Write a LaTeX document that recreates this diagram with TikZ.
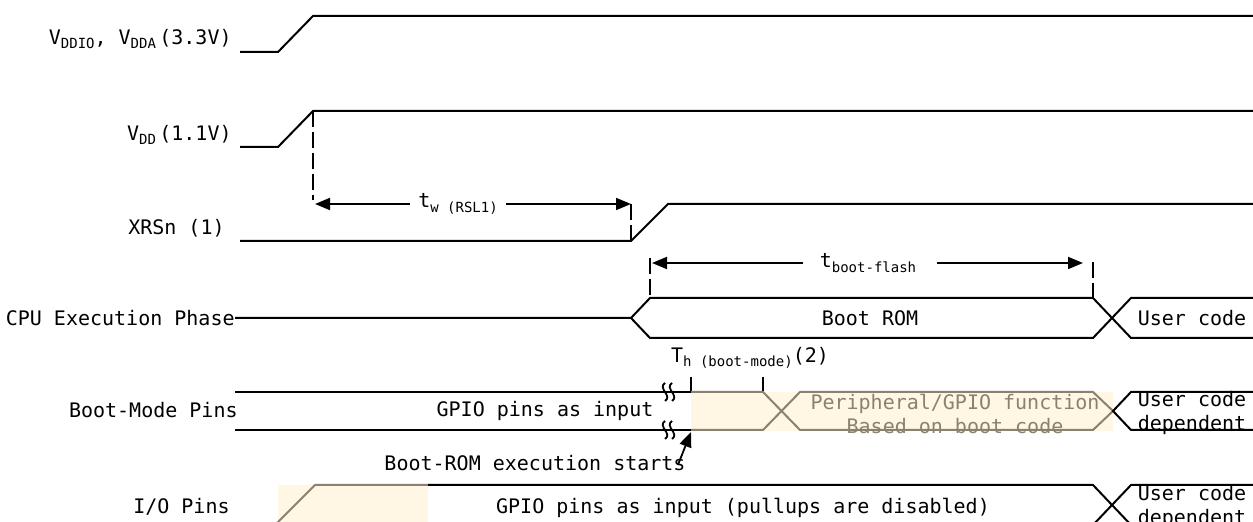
\documentclass[tikz,border=0pt]{standalone}
\usepackage{fontspec}
\setmainfont{DejaVu Sans Mono}
\usetikzlibrary{arrows.meta,calc,positioning}
\definecolor{bootshade}{RGB}{255,246,227}
\definecolor{bootgray}{RGB}{138,130,112}
\tikzset{
    wave/.style={line width=1pt, black},
    dimwave/.style={line width=1pt, bootgray},
    marker/.style={line width=1pt, dash pattern=on 8pt off 2.5pt},
    tip/.style={line width=0.9pt, -{Triangle[length=7.5pt,width=6pt]}},
    signame/.style={anchor=east, inner sep=0pt, font=\fontsize{10}{12}\selectfont},
    txt/.style={inner sep=0pt, font=\fontsize{10}{12}\selectfont, align=center},
}
\newcommand{\lowtxt}[1]{\raisebox{-0.4ex}{\fontsize{7}{8}\selectfont #1}}

\begin{document}
\begin{tikzpicture}[x=0.5pt, y=-0.5pt]
    \useasboundingbox (0,0) rectangle (1253,522);
    \clip (0,0) rectangle (1253,522);

    % Draw shaded regions.
    \fill[bootshade] (691,392) rectangle (1113,431);
    \fill[bootshade] (278,485) rectangle (428,525);

    % Draw signal names.
    \node[signame] (vddio) at (232,39) {V\lowtxt{DDIO}, V\lowtxt{DDA}\,(3.3V)};
    \node[signame] (vdd) at (232,135) {V\lowtxt{DD}\,(1.1V)};
    \node[signame] (xrsn) at (225,228) {XRSn (1)};
    \node[signame] (cpu) at (235,318) {CPU Execution Phase};
    \node[signame] (bootmode) at (238,410) {Boot-Mode Pins};
    \node[signame] (iopins) at (230,507) {I/O Pins};

    % Draw supply and reset waves.
    \draw[wave] (240,52) -- (278,52) -- (313,16) -- (1253,16);
    \draw[wave] (240,147) -- (278,147) -- (313,111) -- (1253,111);
    \draw[wave] (240,241) -- (631,241) -- (668,204) -- (1253,204);

    % Draw dashed markers.
    \draw[marker] (313,111) -- (313,200);
    \draw[marker] (631,204) -- (631,241);
    \draw[marker] (650,258) -- (650,298);
    \draw[marker] (1093,262) -- (1093,298);

    % Timing spans.
    \node[txt] (tw) at (458,204) {t\lowtxt{w (RSL1)}};
    \coordinate (twleft) at (315,204);
    \coordinate (twright) at (631,204);
    \draw[tip] ([xshift=-4pt]tw.west) -- (twleft);
    \draw[tip] ([xshift=4pt]tw.east) -- (twright);

    \node[txt] (tboot) at (868,263) {t\lowtxt{boot-flash}};
    \coordinate (tbleft) at (652,263);
    \coordinate (tbright) at (1083,263);
    \draw[tip] ([xshift=-8pt]tboot.west) -- (tbleft);
    \draw[tip] ([xshift=10pt]tboot.east) -- (tbright);

    % CPU execution phase.
    \draw[wave] (cpu.east) -- (631,318) -- (650,298) -- (1093,298) -- (1131,338) -- (1253,338);
    \draw[wave] (631,318) -- (650,338) -- (1093,338) -- (1131,298) -- (1253,298);
    \node[txt] (bootrom) at (870,318) {Boot ROM};
    \node[txt] (usercpu) at (1192,318) {User code};

    % Boot-mode pins.
    \draw[wave] (235,392) -- (691,392);
    \draw[wave] (235,430) -- (691,430);
    \foreach \y in {392,430}
        \foreach \dx in {0,7}
            \draw[line width=0.9pt] (665+\dx,\y-9) .. controls (657+\dx,\y-4) and (673+\dx,\y+4) .. (665+\dx,\y+9);
    \draw[wave] (691,377) -- (691,392);
    \draw[wave] (763,377) -- (763,392);
    \node[txt] (thold) at (750,358) {T\lowtxt{h (boot-mode)}(2)};
    \draw[dimwave] (691,392) -- (763,392) -- (800,430) -- (1093,430) -- (1113,411)
        -- (1093,392) -- (800,392) -- (763,430) -- (691,430);
    \draw[wave] (1253,392) -- (1131,392) -- (1113,411) -- (1131,430) -- (1253,430);
    \node[txt] (gpioin) at (545,411) {GPIO pins as input};
    \node[txt, text=bootgray] (periph) at (955,414) {Peripheral/GPIO function\\Based on boot code};
    \node[txt] (userboot) at (1192,413) {User code\\dependent};

    % Boot-ROM start pointer.
    \node[txt] (romstart) at (535,463) {Boot-ROM execution starts};
    \coordinate (bootstart) at (691,432);
    \draw[tip] ([xshift=-4pt,yshift=-1pt]romstart.east) -- (bootstart);

    % I/O pins.
    \draw[dimwave] (275,525) -- (315,485) -- (428,485);
    \draw[wave] (428,485) -- (1093,485) -- (1131,525);
    \draw[wave] (1093,525) -- (1131,485) -- (1253,485);
    \node[txt] (gpiopull) at (743,508) {GPIO pins as input (pullups are disabled)};
    \node[txt] (userio) at (1192,507) {User code\\dependent};
\end{tikzpicture}
\end{document}
